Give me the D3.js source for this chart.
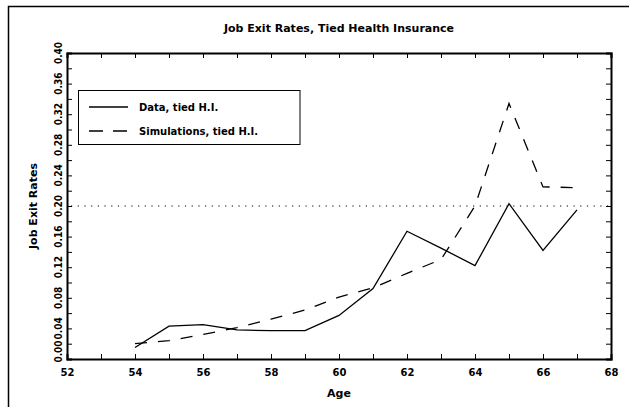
<!DOCTYPE html>
<html>
<head>
<meta charset="utf-8">
<script src="https://cdn.jsdelivr.net/npm/d3@7"></script>
<style>
  body { margin: 0; background: #fff; }
  text { font-family: "DejaVu Sans", sans-serif; fill: #000; font-weight: bold; }
</style>
</head>
<body>
<script>
var ages = [54, 55, 56, 57, 58, 59, 60, 61, 62, 63, 64, 65, 66, 67];
var dataTied = [0.015, 0.043, 0.045, 0.038, 0.037, 0.037, 0.057, 0.092, 0.167, 0.145, 0.122, 0.203, 0.142, 0.195];
var simTied = [0.020, 0.024, 0.032, 0.041, 0.052, 0.064, 0.081, 0.093, 0.112, 0.130, 0.200, 0.334, 0.225, 0.224];
var xTicks = d3.range(52, 69, 1);
var yTicks = d3.range(0, 0.401, 0.02);
var yLabels = [0, 0.04, 0.08, 0.12, 0.16, 0.20, 0.24, 0.28, 0.32, 0.36, 0.40];
var refLine = 0.2;
var seriesNames = ["Data, tied H.I.", "Simulations, tied H.I."];

var width = 629, height = 407;
var plotLeft = 67, plotRight = 611, plotTop = 53, plotBottom = 359;

var svg = d3.select("body").append("svg")
    .attr("width", width)
    .attr("height", height);

// outer frame (runs off the right and bottom of the picture)
svg.append("rect")
    .attr("x", 8.5).attr("y", 6.5)
    .attr("width", 700).attr("height", 500)
    .style("fill", "none").style("stroke", "#000").style("stroke-width", 1.5);

var x = d3.scaleLinear().domain([52, 68]).range([plotLeft, plotRight]);
var y = d3.scaleLinear().domain([0, 0.4]).range([plotBottom, plotTop]);

svg.append("text")
    .attr("x", (plotLeft + plotRight) / 2).attr("y", 31.5)
    .attr("text-anchor", "middle")
    .style("font-size", "11px")
    .text("Job Exit Rates, Tied Health Insurance");

// axes, ticks pointing inward
var xAxis = svg.append("g")
    .attr("transform", "translate(0," + plotBottom + ")")
    .call(d3.axisBottom(x).tickValues(xTicks).tickSize(-5).tickPadding(10)
        .tickFormat(function (d) { return d % 2 == 0 ? d : ""; }));
xAxis.selectAll("text").style("font-size", "10px").style("font-family", "DejaVu Sans");

svg.append("g")
    .attr("transform", "translate(0," + plotTop + ")")
    .call(d3.axisTop(x).tickValues(xTicks).tickSize(-5).tickFormat(""));

svg.append("g")
    .attr("transform", "translate(" + plotLeft + ",0)")
    .call(d3.axisLeft(y).tickValues(yTicks).tickSize(-5).tickFormat(""));

svg.append("g")
    .attr("transform", "translate(" + plotRight + ",0)")
    .call(d3.axisRight(y).tickValues(yTicks).tickSize(-5).tickFormat(""));

svg.selectAll(".domain").style("stroke-width", 2);

// rotated y labels; the 0.00 one ends at the axis like the original
svg.selectAll(".ylab")
    .data(yLabels)
    .enter()
    .append("text")
    .attr("transform", function (d) {
        var yy = d == 0 ? y(d) - 7.5 : y(d);
        return "translate(58," + yy + ") rotate(-90)";
    })
    .attr("text-anchor", "middle")
    .attr("dy", "0.35em")
    .style("font-family", "DejaVu Sans Condensed")
    .style("font-size", "10px")
    .text(function (d) { return d3.format(".2f")(d); });

svg.append("text")
    .attr("transform", "translate(33," + (plotTop + plotBottom) / 2 + ") rotate(-90)")
    .attr("text-anchor", "middle")
    .attr("dy", "0.35em")
    .style("font-size", "11px")
    .text("Job Exit Rates");

svg.append("text")
    .attr("x", (plotLeft + plotRight) / 2).attr("y", 397)
    .attr("text-anchor", "middle")
    .style("font-size", "11px")
    .text("Age");

// dotted reference line
svg.append("line")
    .attr("x1", plotLeft + 4).attr("x2", plotRight)
    .attr("y1", y(refLine)).attr("y2", y(refLine))
    .style("stroke", "#000").style("stroke-width", 1.2)
    .style("stroke-dasharray", "1.2,5.5");

var line = d3.line()
    .x(function (d) { return x(d[0]); })
    .y(function (d) { return y(d[1]); });

svg.append("path")
    .datum(d3.zip(ages, dataTied))
    .attr("d", line)
    .style("fill", "none").style("stroke", "#000").style("stroke-width", 1.3);

svg.append("path")
    .datum(d3.zip(ages, simTied))
    .attr("d", line)
    .style("fill", "none").style("stroke", "#000").style("stroke-width", 1.3)
    .style("stroke-dasharray", "12,11");

// legend
var legend = svg.append("g");
legend.append("rect")
    .attr("x", 78.5).attr("y", 90.5)
    .attr("width", 221.5).attr("height", 54)
    .style("fill", "#fff").style("stroke", "#000").style("stroke-width", 1);

var rows = legend.selectAll(".row")
    .data(seriesNames)
    .enter()
    .append("g")
    .attr("transform", function (d, i) { return "translate(0," + (107 + i * 24) + ")"; });

rows.append("line")
    .attr("x1", 89).attr("x2", 128)
    .style("stroke", "#000").style("stroke-width", 1.3)
    .style("stroke-dasharray", function (d, i) { return i == 0 ? null : "14,10"; });

rows.append("text")
    .attr("x", 139)
    .attr("dy", "0.35em")
    .style("font-size", "10px")
    .text(function (d) { return d; });
</script>
</body>
</html>
